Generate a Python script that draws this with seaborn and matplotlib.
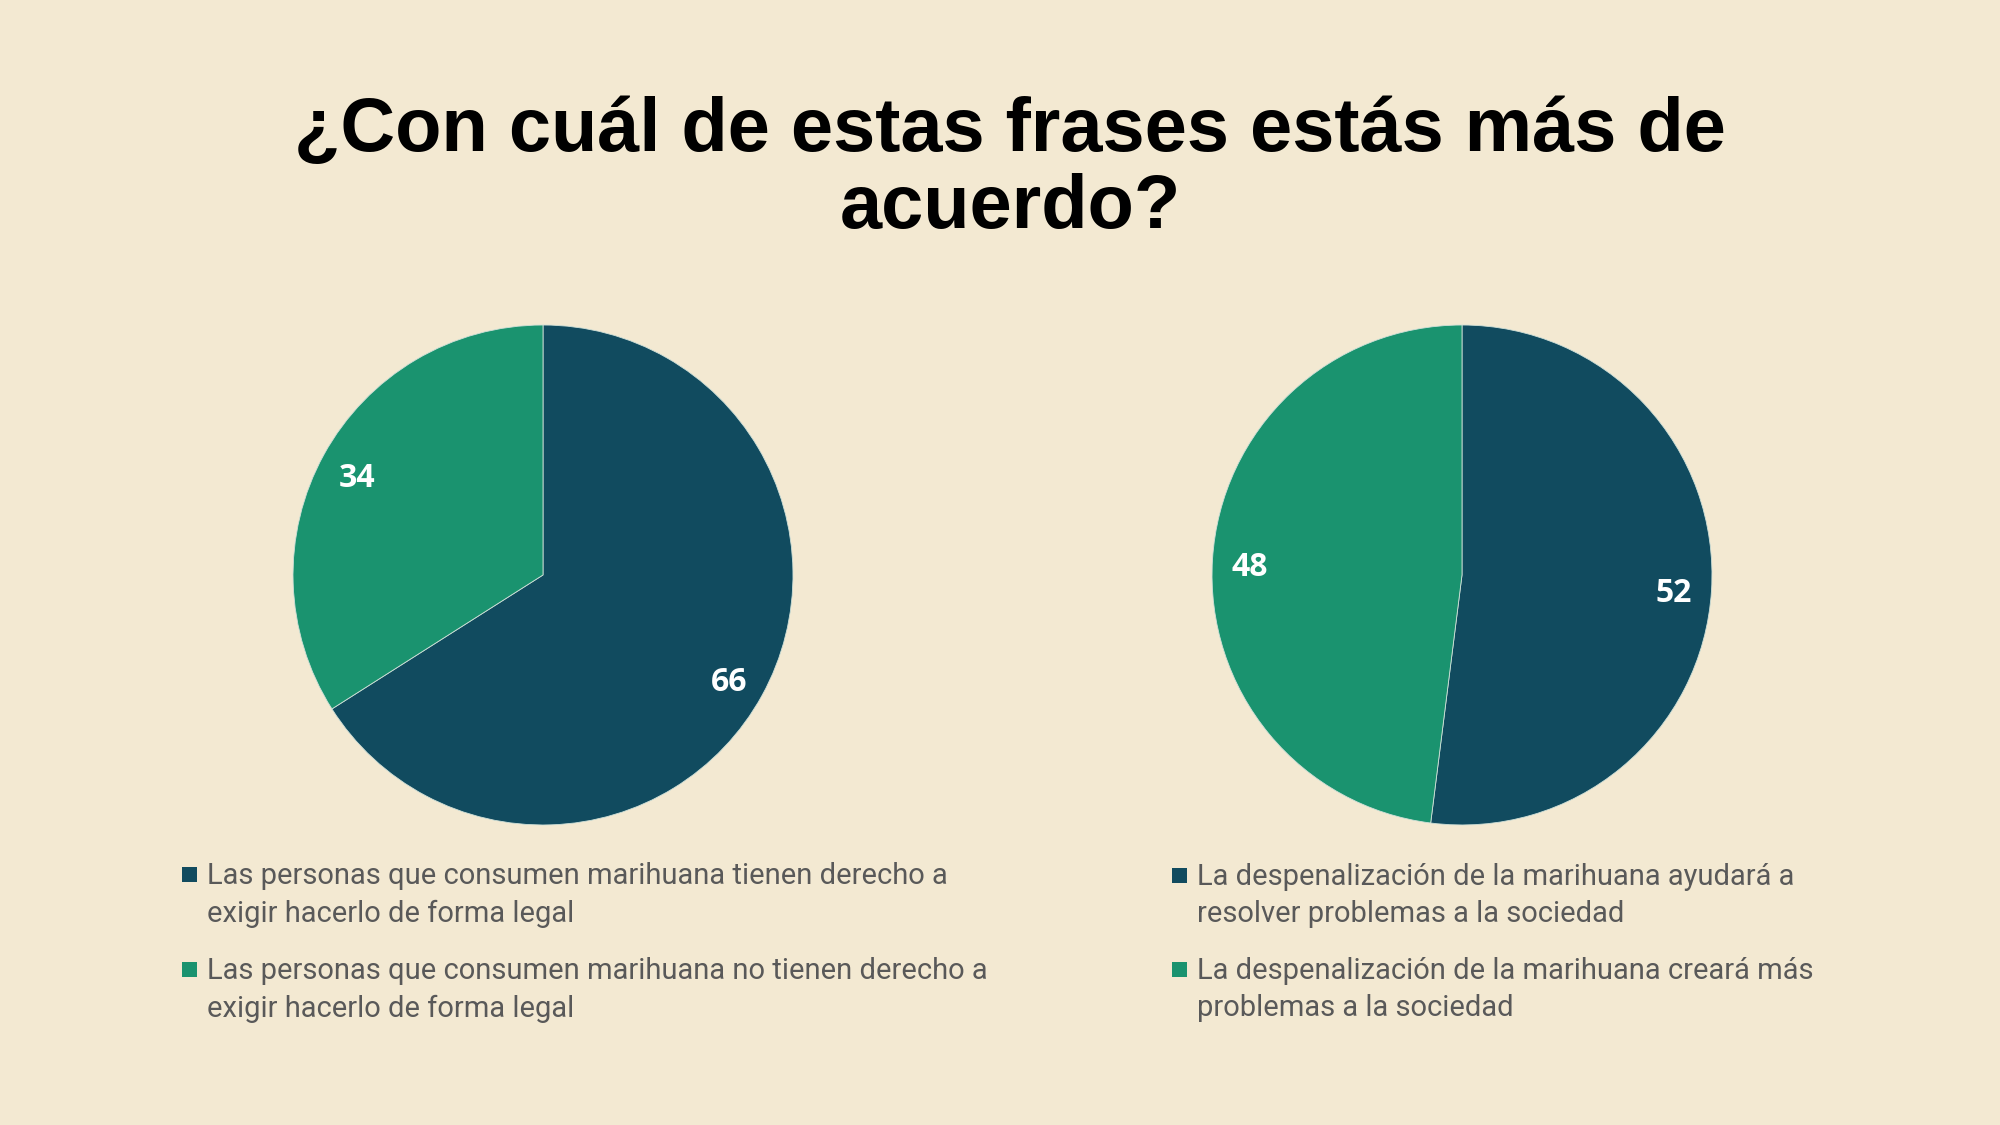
import matplotlib.pyplot as plt
import seaborn as sns
from matplotlib.patches import Rectangle

# data
left_labels = ["Las personas que consumen marihuana tienen derecho a\nexigir hacerlo de forma legal",
               "Las personas que consumen marihuana no tienen derecho a\nexigir hacerlo de forma legal"]
left_values = [66, 34]
right_labels = ["La despenalización de la marihuana ayudará a\nresolver problemas a la sociedad",
                "La despenalización de la marihuana creará más\nproblemas a la sociedad"]
right_values = [52, 48]
title = "¿Con cuál de estas frases estás más de\nacuerdo?"

bg = "#F3E9D2"
colors = ["#114B5F", "#1A936F"]

sns.set_theme(style="white", palette=sns.color_palette(colors))
plt.rcParams["font.family"] = ["Roboto", "DejaVu Sans"]

fig = plt.figure(figsize=(20, 11.25), dpi=100, facecolor=bg)

fig.text(0.505, 0.849, title, ha="center", va="center", fontsize=54.5, fontweight="bold",
         family=["Liberation Sans", "DejaVu Sans"], linespacing=1.12, color="black")


def draw_pie(left, values, labels, leg_x, leg_tops):
    ax = fig.add_axes([left, 0.2667, 0.25, 0.4444])
    ax.set_facecolor(bg)
    wedges, texts = ax.pie(values, colors=colors, startangle=90, counterclock=False,
                           labels=[str(v) for v in values], labeldistance=0.85,
                           wedgeprops=dict(edgecolor="#cfe0d8", linewidth=0.6),
                           textprops=dict(color="white", fontsize=23, fontweight="bold",
                                          family=["Open Sans", "DejaVu Sans"]))
    for t in texts:
        t.set_ha("center")
        t.set_va("center")
        x, y = t.get_position()
        t.set_position((x, y - 0.022))
    ax.set_xlim(-1, 1)
    ax.set_ylim(-1, 1)
    ax.set_aspect("equal")
    ax.axis("off")

    # legend, drawn by hand so the square sits on the first line
    for lab, col, top in zip(labels, colors, leg_tops):
        fig.text(leg_x + 0.0125, top, lab, ha="left", va="top", fontsize=21,
                 color="#595959", linespacing=1.43)
        fig.add_artist(Rectangle((leg_x, top - 0.0178), 0.0075, 0.0133,
                                 transform=fig.transFigure, facecolor=col, edgecolor="none"))


draw_pie(0.1465, left_values, left_labels, 0.091, [0.2338, 0.1493])
draw_pie(0.606, right_values, right_labels, 0.586, [0.2329, 0.1493])

fig.savefig("out.png", dpi=100, facecolor=bg)
